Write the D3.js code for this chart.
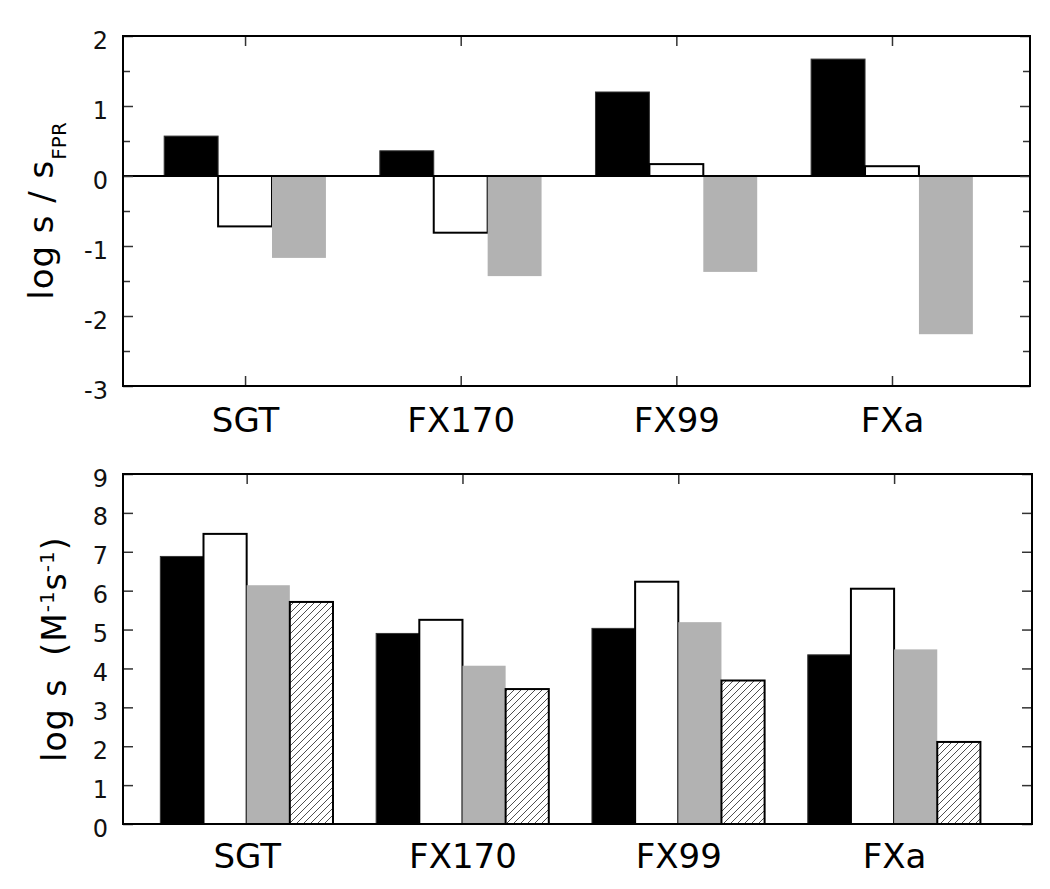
<!DOCTYPE html>
<html>
<head>
<meta charset="utf-8">
<script src="https://cdn.jsdelivr.net/npm/d3@7"></script>
<style>
  html, body { margin: 0; padding: 0; background: #fff; }
  svg { display: block; font-family: "DejaVu Sans", Verdana, sans-serif; }
</style>
</head>
<body>
<svg id="chart" width="1050" height="889"></svg>
<script>
// ---- data ----
const categories = ["SGT", "FX170", "FX99", "FXa"];

// top panel: log s / s_FPR
const topBlack = [0.57, 0.36, 1.20, 1.67];
const topWhite = [-0.72, -0.81, 0.17, 0.14];
const topGray  = [-1.17, -1.43, -1.37, -2.26];
const topTicks = [-3, -2, -1, 0, 1, 2];
const topMinorTicks = [-2.5, -1.5, -0.5, 0.5, 1.5];

// bottom panel: log s (M^-1 s^-1)
const botBlack = [6.88, 4.90, 5.03, 4.35];
const botWhite = [7.46, 5.25, 6.23, 6.05];
const botGray  = [6.14, 4.07, 5.19, 4.49];
const botHatch = [5.71, 3.47, 3.69, 2.11];
const botTicks = [0, 1, 2, 3, 4, 5, 6, 7, 8, 9];

const svg = d3.select("#chart");

const defs = svg.append("defs");
const P = 7;
const pat = defs.append("pattern")
  .attr("id", "hatch")
  .attr("patternUnits", "userSpaceOnUse")
  .attr("width", P).attr("height", P);
pat.append("rect").attr("width", P).attr("height", P).attr("fill", "#fff");
pat.append("path")
  .attr("d", `M-1,1 l2,-2 M0,${P} l${P},-${P} M${P - 1},${P + 1} l2,-2`)
  .attr("stroke", "#222").attr("stroke-width", 0.8);

const styles = {
  black: { fill: "#000", stroke: "#333", sw: 1 },
  white: { fill: "#fff", stroke: "#000", sw: 2 },
  gray:  { fill: "#b2b2b2", stroke: "none", sw: 0 },
  hatch: { fill: "url(#hatch)", stroke: "#000", sw: 2 }
};

const fmt = d => String(d).replace("\u2212", "-");

function panel(cfg) {
  const g = svg.append("g");
  const x = d3.scaleLinear().domain(cfg.xDomain).range([cfg.left, cfg.right]);
  const y = d3.scaleLinear().domain(cfg.yDomain).range([cfg.bottom, cfg.top]);

  // x ticks top & bottom (behind bars)
  const xb = g.append("g")
    .attr("transform", `translate(0,${cfg.bottom})`)
    .call(d3.axisBottom(x).tickValues([0, 1, 2, 3]).tickSize(-10).tickPadding(0)
      .tickFormat((d, i) => categories[i]));
  xb.select(".domain").remove();
  xb.selectAll(".tick line").attr("stroke", "#333").attr("stroke-width", 1.5);
  xb.selectAll("text")
    .attr("font-size", 34).attr("fill", "#000")
    .attr("font-family", "DejaVu Sans, Verdana, sans-serif")
    .attr("y", cfg.labelBaseline).attr("dy", 0);

  const xt = g.append("g")
    .attr("transform", `translate(0,${cfg.top})`)
    .call(d3.axisTop(x).tickValues([0, 1, 2, 3]).tickSize(-10).tickFormat(""));
  xt.select(".domain").remove();
  xt.selectAll(".tick line").attr("stroke", "#333").attr("stroke-width", 1.5);

  // bars
  const nb = cfg.series.length;
  cfg.series.forEach((s, si) => {
    const st = styles[s.style];
    g.append("g").selectAll("rect")
      .data(s.values)
      .join("rect")
      .attr("x", (d, i) => x(i - cfg.groupW / 2 + si * cfg.groupW / nb))
      .attr("width", x(cfg.groupW / nb) - x(0))
      .attr("y", d => y(Math.max(0, d)))
      .attr("height", d => Math.abs(y(d) - y(0)))
      .attr("fill", st.fill)
      .attr("stroke", st.stroke)
      .attr("stroke-width", st.sw);
  });

  // zero line
  if (cfg.zeroLine) {
    g.append("line")
      .attr("x1", cfg.left).attr("x2", cfg.right)
      .attr("y1", y(0)).attr("y2", y(0))
      .attr("stroke", "#000").attr("stroke-width", 2);
  }

  // left axis (major)
  const ax = g.append("g")
    .attr("transform", `translate(${cfg.left},0)`)
    .call(d3.axisLeft(y).tickValues(cfg.ticks).tickSize(-10).tickPadding(15).tickFormat(fmt));
  ax.select(".domain").remove();
  ax.selectAll(".tick line").attr("stroke", "#333").attr("stroke-width", 1.5);
  ax.selectAll("text")
    .attr("font-size", 24).attr("fill", "#111")
    .attr("font-family", "DejaVu Sans, Verdana, sans-serif")
    .attr("dy", "0.5em");

  // right axis (major)
  const axr = g.append("g")
    .attr("transform", `translate(${cfg.right},0)`)
    .call(d3.axisRight(y).tickValues(cfg.ticks).tickSize(-10).tickFormat(""));
  axr.select(".domain").remove();
  axr.selectAll(".tick line").attr("stroke", "#333").attr("stroke-width", 1.5);

  if (cfg.minor) {
    [[cfg.left, d3.axisLeft], [cfg.right, d3.axisRight]].forEach(([xx, fn]) => {
      const am = g.append("g")
        .attr("transform", `translate(${xx},0)`)
        .call(fn(y).tickValues(cfg.minor).tickSize(-7).tickFormat(""));
      am.select(".domain").remove();
      am.selectAll(".tick line").attr("stroke", "#333").attr("stroke-width", 1.5);
    });
  }

  // frame
  g.append("rect")
    .attr("x", cfg.left).attr("y", cfg.top)
    .attr("width", cfg.right - cfg.left).attr("height", cfg.bottom - cfg.top)
    .attr("fill", "none").attr("stroke", "#000").attr("stroke-width", 2);

  return g;
}

// Top panel
panel({
  left: 123, right: 1030, top: 36, bottom: 386,
  xDomain: [-0.566, 3.64], yDomain: [-3, 2],
  ticks: topTicks, minor: topMinorTicks,
  groupW: 0.75, zeroLine: true, labelBaseline: 46,
  series: [
    { values: topBlack, style: "black" },
    { values: topWhite, style: "white" },
    { values: topGray, style: "gray" }
  ]
});

// Bottom panel
panel({
  left: 123, right: 1032, top: 474, bottom: 824,
  xDomain: [-0.573, 3.639], yDomain: [0, 9],
  ticks: botTicks, minor: null,
  groupW: 0.8, zeroLine: false, labelBaseline: 44,
  series: [
    { values: botBlack, style: "black" },
    { values: botWhite, style: "white" },
    { values: botGray, style: "gray" },
    { values: botHatch, style: "hatch" }
  ]
});

// y titles
const t1 = svg.append("text")
  .attr("transform", "translate(53,211) rotate(-90)")
  .attr("text-anchor", "middle")
  .attr("font-size", 34).attr("fill", "#000")
  .attr("letter-spacing", 1);
t1.append("tspan").text("log s / s");
t1.append("tspan").attr("font-size", 20).attr("dy", 13).attr("letter-spacing", 0).text("FPR");

const t2 = svg.append("text")
  .attr("transform", "translate(66,649) rotate(-90)")
  .attr("text-anchor", "middle")
  .attr("font-size", 33).attr("fill", "#000")
  .attr("letter-spacing", 1)
  .attr("xml:space", "preserve");
t2.append("tspan").text("log s  (M");
t2.append("tspan").attr("font-size", 20).attr("dy", -12).text("-1");
t2.append("tspan").attr("dy", 12).text("s");
t2.append("tspan").attr("font-size", 20).attr("dy", -12).text("-1");
t2.append("tspan").attr("dy", 12).text(")");
</script>
</body>
</html>
